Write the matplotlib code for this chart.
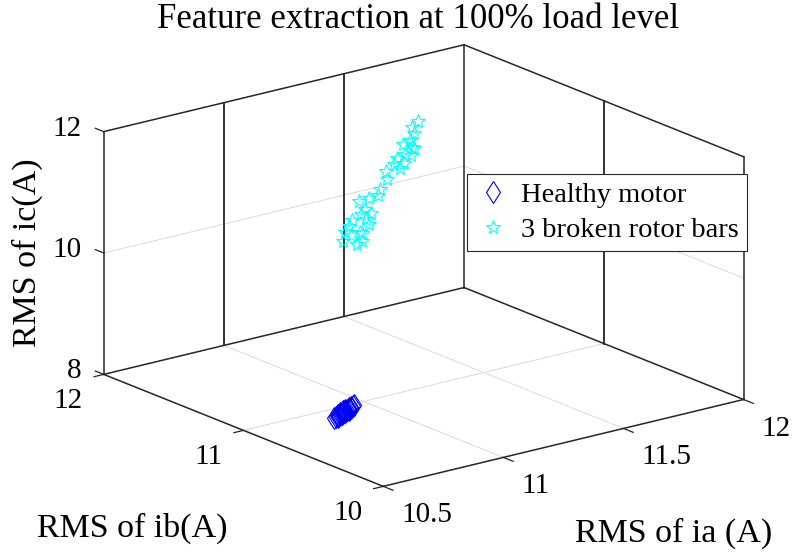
import numpy as np
import matplotlib.pyplot as plt

plt.rcParams['font.family'] = ['Liberation Serif', 'DejaVu Serif']

### Axis limits and ticks ###
ia_lim = [10.5, 12]
ib_lim = [10, 12]
ic_lim = [8, 12]
ia_ticks = [10.5, 11, 11.5, 12]
ib_ticks = [10, 11, 12]
ic_ticks = [8, 10, 12]
ia_ticklabels = ['10.5', '11', '11.5', '12']
ib_ticklabels = ['10', '11', '12']
ic_ticklabels = ['8', '10', '12']

### Data (RMS currents, A) ###
healthy_ia = [10.728, 10.742, 10.758, 10.774, 10.754, 10.780, 10.796, 10.766, 10.748, 10.736,
              10.784, 10.800, 10.762, 10.750, 10.772, 10.788, 10.724, 10.756, 10.778, 10.770,
              10.742, 10.806, 10.760, 10.734, 10.792, 10.764, 10.752, 10.776]
healthy_ib = [10.731, 10.738, 10.729, 10.742, 10.735, 10.727, 10.739, 10.744, 10.733, 10.726,
              10.736, 10.731, 10.740, 10.728, 10.734, 10.741, 10.737, 10.730, 10.725, 10.738,
              10.743, 10.733, 10.736, 10.729, 10.732, 10.727, 10.741, 10.735]
healthy_ic = [8.25, 8.27, 8.30, 8.31, 8.28, 8.33, 8.35, 8.29, 8.27, 8.24,
              8.32, 8.36, 8.31, 8.28, 8.30, 8.34, 8.23, 8.29, 8.32, 8.31,
              8.26, 8.37, 8.30, 8.26, 8.34, 8.30, 8.28, 8.32]

broken_ia = [11.460, 11.448, 11.419, 11.398, 11.456, 11.394, 11.373, 11.406, 11.353, 11.386,
             11.332, 11.324, 11.303, 11.282, 11.261, 11.212, 11.232, 11.274, 11.220, 11.191,
             11.249, 11.170, 11.207, 11.232, 11.149, 11.220, 11.187, 11.435, 11.427, 11.440,
             11.241, 11.162, 11.199]
broken_ib = [11.40, 11.41, 11.39, 11.40, 11.42, 11.38, 11.40, 11.41, 11.39, 11.40,
             11.41, 11.39, 11.40, 11.38, 11.41, 11.40, 11.39, 11.42, 11.40, 11.41,
             11.39, 11.40, 11.38, 11.41, 11.40, 11.39, 11.41, 11.40, 11.39, 11.42,
             11.40, 11.41, 11.39]
broken_ic = [11.807, 11.622, 11.551, 11.489, 11.352, 11.345, 11.283, 11.169, 11.220, 11.107,
             11.109, 11.002, 10.842, 10.779, 10.717, 10.732, 10.597, 10.459, 10.511, 10.423,
             10.319, 10.361, 10.244, 10.171, 10.135, 10.068, 10.181, 11.732, 11.428, 11.253,
             10.409, 10.254, 10.039]


### Figure / 3D axes ###
fig = plt.figure(figsize=(7.93, 5.52), dpi=100)
ax = fig.add_axes([0.1768, 0.0054, 0.6961, 1.0], projection='3d', proj_type='ortho')
ax.view_init(elev=18.1, azim=-127.8)
ax.set_box_aspect((1, 1, 0.56), zoom=1.22)
ax.set_xlim(ia_lim)
ax.set_ylim(ib_lim)
ax.set_zlim(ic_lim)
ax.set_axis_off()

edge = '#262626'
grid_dark = '#333333'
grid_light = '#d9d9d9'


def seg(p, q, **kw):
    ax.plot([p[0], q[0]], [p[1], q[1]], [p[2], q[2]], clip_on=False, **kw)


def label3d(x, y, z, s, **kw):
    # project a 3D point once and draw the label as plain 2D text
    v = ax.get_proj() @ np.array([x, y, z, 1.0])
    ax.text2D(v[0] / v[3], v[1] / v[3], s, transform=ax.transData, **kw)


x0, x1 = ia_lim
y0, y1 = ib_lim
z0, z1 = ic_lim

## light grid: floor and horizontal z lines on back walls ##
for t in ia_ticks[1:-1]:
    seg((t, y0, z0), (t, y1, z0), color=grid_light, lw=0.7)
for t in ib_ticks[1:-1]:
    seg((x0, t, z0), (x1, t, z0), color=grid_light, lw=0.7)
for t in ic_ticks[1:-1]:
    seg((x0, y1, t), (x1, y1, t), color=grid_light, lw=0.7)
    seg((x1, y1, t), (x1, y0, t), color=grid_light, lw=0.7)

## dark vertical grid lines on back walls ##
for t in ia_ticks[1:-1]:
    seg((t, y1, z0), (t, y1, z1), color=grid_dark, lw=1.4)
for t in ib_ticks[1:-1]:
    seg((x1, t, z0), (x1, t, z1), color=grid_dark, lw=1.4)

## box edges ##
bk = dict(color=edge, lw=1.1)
seg((x0, y1, z0), (x0, y1, z1), **bk)
seg((x1, y1, z0), (x1, y1, z1), **bk)
seg((x1, y0, z0), (x1, y0, z1), **bk)
seg((x0, y1, z0), (x1, y1, z0), **bk)
seg((x0, y1, z1), (x1, y1, z1), **bk)
seg((x1, y1, z0), (x1, y0, z0), **bk)
seg((x1, y1, z1), (x1, y0, z1), **bk)
seg((x0, y1, z0), (x0, y0, z0), **bk)
seg((x0, y0, z0), (x1, y0, z0), **bk)

## ticks and tick labels ##
tk = dict(color=edge, lw=0.9)
fs_tick = 21
for t, s in zip(ia_ticks, ia_ticklabels):
    seg((t, y0, z0), (t, y0 - 0.07, z0), **tk)
    label3d(t, y0 - 0.128, z0 - 0.36, s, ha='left', va='center', fontsize=fs_tick)
for t, s in zip(ib_ticks, ib_ticklabels):
    seg((x0, t, z0), (x0 - 0.04, t, z0), **tk)
    label3d(x0 - 0.087, t, z0 - 0.36, s, ha='right', va='center', fontsize=fs_tick)
for t, s in zip(ic_ticks, ic_ticklabels):
    seg((x0, y1, t), (x0, y1 + 0.06, t), **tk)
    label3d(x0, y1 + 0.16, t - 0.1, s, ha='right', va='center', fontsize=fs_tick)

## data ##
ax.plot(healthy_ia, healthy_ib, healthy_ic, linestyle='none', marker='d', ms=11.5,
        mfc='none', mec='blue', mew=0.8, clip_on=False, label='Healthy motor')
ax.plot(broken_ia, broken_ib, broken_ic, linestyle='none', marker='*', ms=10.5,
        mfc='none', mec='cyan', mew=0.8, clip_on=False, label='3 broken rotor bars')

## labels ##
fig.text(0.527, 0.964, 'Feature extraction at 100% load level', ha='center', va='center', fontsize=25)
fig.text(0.850, 0.033, 'RMS of ia (A)', ha='center', va='center', fontsize=24.5)
fig.text(0.1665, 0.042, 'RMS of ib(A)', ha='center', va='center', fontsize=24.5)
fig.text(0.034, 0.542, 'RMS of ic(A)', ha='center', va='center', rotation=90, fontsize=24.5)

handles, labels = ax.get_legend_handles_labels()
leg = fig.legend(handles, labels, loc='upper left', bbox_to_anchor=(0.589, 0.685),
                 bbox_transform=fig.transFigure, borderaxespad=0, fontsize=20.5,
                 fancybox=False, edgecolor=edge, framealpha=1, handlelength=1.2,
                 handletextpad=0.4, borderpad=0.3, labelspacing=0.3, numpoints=1)
leg.get_frame().set_linewidth(0.8)

fig.savefig('out.png', dpi=100)
